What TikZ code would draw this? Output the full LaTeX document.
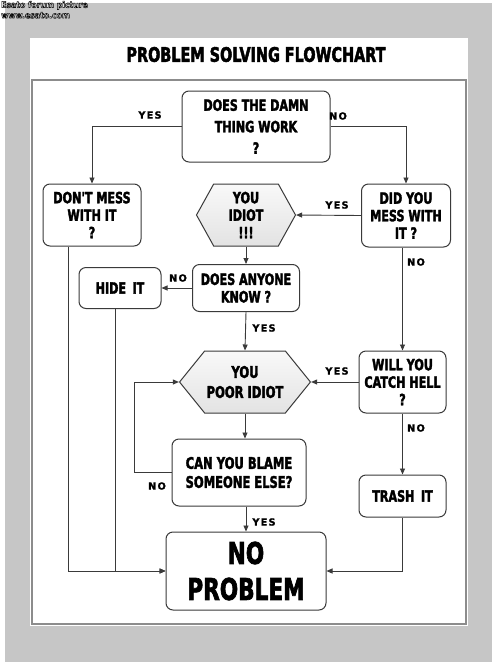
\documentclass[tikz,border=0pt]{standalone}
\usepackage{fontspec}
\usepackage{xcolor}
\usetikzlibrary{arrows.meta,shapes.symbols}

\newfontfamily\impactfont{DejaVu Sans Bold}[FakeStretch=0.72,FakeBold=2.2]
\newfontfamily\yesfont{DejaVu Sans Bold}[LetterSpace=12,FakeBold=1.4]
\newfontfamily\markfont{DejaVu Sans Condensed Bold}

\definecolor{sheetgray}{HTML}{C6C6C6}
\definecolor{linegray}{HTML}{3A3A3A}
\definecolor{framegray}{HTML}{8C8C8C}

% white letters with a black rim
\newcommand{\outlined}[1]{\textcolor{white}{\special{pdf:literal direct 2 Tr 0.5 w 0 G}#1\special{pdf:literal direct 0 Tr}}}

\tikzset{
  box/.style={draw=linegray, line width=1pt, rounded corners=7pt, fill=white, align=center, inner sep=2pt,
    font=\impactfont\fontsize{15.5}{17.5}\selectfont},
  hexbox/.style={signal, signal to=west and east, draw=linegray, line width=1pt, top color=gray!5, bottom color=gray!22,
    align=center, inner sep=2pt, font=\impactfont\fontsize{15.5}{17.5}\selectfont},
  lbl/.style={font=\yesfont\fontsize{9.8}{10}\selectfont},
  link/.style={draw=linegray, line width=0.9pt, -{Triangle[length=6pt,width=5pt]}},
}

\begin{document}
\begin{tikzpicture}[x=1pt,y=-1pt]
\useasboundingbox (0,0) rectangle (500,665);
% sheet and frame
\fill[sheetgray] (5,3) rectangle (492,662);
\fill[white] (30,38) rectangle (468,626);
\draw[framegray, line width=1.5pt] (32,80) rectangle (466,624);
\node[font=\impactfont\fontsize{20}{22}\selectfont] (title) at (256,54.5) {PROBLEM SOLVING FLOWCHART};
\node[anchor=north west, inner sep=1pt, align=left, font=\markfont\fontsize{8.6}{10.5}\selectfont] (mark) at (0,0)
  {\outlined{Esato forum picture}\\\outlined{www.esato.com}};

% boxes
\node[box, minimum width=148pt, minimum height=71pt, font=\impactfont\fontsize{15.5}{21.5}\selectfont] (work) at (256,126.5) {DOES THE DAMN\\THING WORK\\?};
\node[box, minimum width=98pt, minimum height=62pt] (dont) at (92,215) {DON'T MESS\\WITH IT\\?};
\node[hexbox, minimum width=99pt, minimum height=62pt, signal pointer angle=122] (idiot) at (246,215) {YOU\\IDIOT\\!!!};
\node[box, minimum width=89pt, minimum height=63pt] (mess) at (406,215.5) {DID YOU\\MESS WITH\\IT ?};
\node[box, minimum width=82pt, minimum height=41pt] (hide) at (120,288) {HIDE\, IT};
\node[box, minimum width=107pt, minimum height=47pt] (anyone) at (246,288) {DOES ANYONE\\KNOW ?};
\node[hexbox, minimum width=124pt, minimum height=62pt, signal pointer angle=102, font=\impactfont\fontsize{16}{20}\selectfont] (poor) at (245,382) {YOU\\POOR IDIOT};
\node[box, minimum width=87pt, minimum height=62pt] (hell) at (402.5,382) {WILL YOU\\CATCH HELL\\?};
\node[box, minimum width=134pt, minimum height=67pt, font=\impactfont\fontsize{16}{19}\selectfont] (blame) at (239,472.5) {CAN YOU BLAME\\SOMEONE ELSE?};
\node[box, minimum width=87pt, minimum height=42pt] (trash) at (402.5,496) {TRASH\, IT};
\node[box, minimum width=160pt, minimum height=78pt, font=\impactfont\fontsize{30}{36}\selectfont] (noprob) at (246,571) {NO\\PROBLEM};

% connectors
\draw[link] (work.west) -| (dont.north);
\draw[link] (work.east) -| (mess.north);
\draw[link] (mess.west) -- (idiot.east);
\draw[link] (idiot.south) -- (anyone.north);
\draw[link] (anyone.west) -- (hide.east);
\draw[link] (anyone.south) -- (poor.north);
\draw[link] (mess.south -| hell.north) -- (hell.north);
\draw[link] (hell.west) -- (poor.east);
\draw[link] (hell.south) -- (trash.north);
\draw[link] (poor.south) -- (poor.south |- blame.north);
\draw[link] (blame.west) -- ++(-37,0) |- (poor.west);
\draw[link] (blame.south -| noprob.north) -- (noprob.north);
\draw[link] (dont.south) ++(-24,0) |- (noprob.west);
\draw[link] (hide.south) ++(-5,0) |- (noprob.west);
\draw[link] (trash.south) |- (noprob.east);

% labels
\node[lbl] (yesWork) at (150,115) {YES};
\node[lbl] (noWork) at (338,116) {NO};
\node[lbl] (yesMess) at (337,205) {YES};
\node[lbl] (noMess) at (416,262) {NO};
\node[lbl] (noAnyone) at (178,278) {NO};
\node[lbl] (yesAnyone) at (264,328) {YES};
\node[lbl] (yesHell) at (337,371) {YES};
\node[lbl] (noHell) at (416,428) {NO};
\node[lbl] (noBlame) at (157,486) {NO};
\node[lbl] (yesBlame) at (264,522) {YES};
\end{tikzpicture}
\end{document}
